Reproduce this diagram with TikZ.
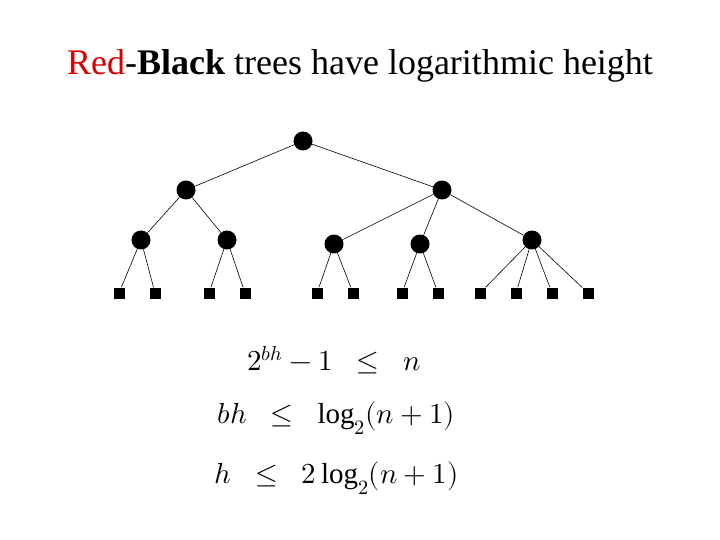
\documentclass[tikz,border=0pt]{standalone}
\usepackage{fontspec}
\setmainfont{Liberation Serif}
\usepackage{unicode-math}
\setmathfont{Latin Modern Math}
\begin{document}
\begin{tikzpicture}[x=1pt,y=-1pt,
  inner/.style={circle,fill=black,minimum size=19pt,inner sep=0pt},
  leaf/.style={rectangle,fill=black,minimum size=11pt,inner sep=0pt},
  edge/.style={draw,line width=0.6pt},
  eq/.style={anchor=west,inner sep=0pt,font=\fontsize{29}{34}\selectfont}]
\useasboundingbox (0,0) rectangle (720,540);
\node[font=\fontsize{36}{40}\selectfont] (title) at (360,66) {\textcolor[rgb]{0.85,0,0}{Red}-\textbf{Black} trees have logarithmic height};
\node[inner] (r) at (303,141) {};
\node[inner] (a) at (186,190) {};
\node[inner] (b) at (442,190) {};
\node[inner] (a1) at (141,240) {};
\node[inner] (a2) at (227,240) {};
\node[inner] (b1) at (334,244) {};
\node[inner] (b2) at (420,244) {};
\node[inner] (b3) at (532,240) {};
\foreach \x [count=\i] in {119,155,209,245,317,353,402,438,480,516,552,588}
  \node[leaf] (l\i) at (\x,293) {};
\draw[edge] (r)--(a) (r)--(b) (a)--(a1) (a)--(a2) (b)--(b1) (b)--(b2) (b)--(b3)
  (a1)--(l1) (a1)--(l2) (a2)--(l3) (a2)--(l4) (b1)--(l5) (b1)--(l6)
  (b2)--(l7) (b2)--(l8) (b3)--(l9) (b3)--(l10) (b3)--(l11) (b3)--(l12);
\node[eq] (e1) at (247,360) {$2^{bh}-1\;\;\le\;\; n$};
\node[eq] (e2) at (217,418) {$bh\;\;\le\;\;\log_2(n+1)$};
\node[eq] (e3) at (214,478) {$h\;\;\le\;\;2\log_2(n+1)$};
\end{tikzpicture}
\end{document}
